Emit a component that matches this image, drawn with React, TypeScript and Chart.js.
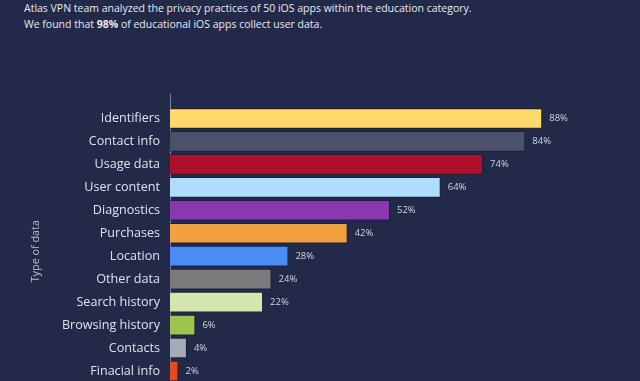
import React, { useEffect, useRef } from "react";
import { Chart, registerables } from "chart.js";

Chart.register(...registerables);

const categories = [
  "Identifiers",
  "Contact info",
  "Usage data",
  "User content",
  "Diagnostics",
  "Purchases",
  "Location",
  "Other data",
  "Search history",
  "Browsing history",
  "Contacts",
  "Finacial info",
];
const values = [88, 84, 74, 64, 52, 42, 28, 24, 22, 6, 4, 2];
const barColors = [
  "#FFDA6A",
  "#4B516B",
  "#AE1029",
  "#AEDDFD",
  "#8A38B0",
  "#F2A03E",
  "#4A8CF6",
  "#7B7B7B",
  "#D3E6AE",
  "#9CC54C",
  "#A6AAB6",
  "#E94A1E",
];
const axisTitle = "Type of data";
const titleLine1 =
  "Atlas VPN team analyzed the privacy practices of 50 iOS apps within the education category.";
const titleLine2Before = "We found that ";
const titleLine2Bold = "98%";
const titleLine2After = " of educational iOS apps collect user data.";

const BG = "#222949";
const FONT = "'Open Sans', 'Noto Sans', sans-serif";

export default function App() {
  const ref = useRef<HTMLCanvasElement>(null);

  useEffect(() => {
    document.body.style.margin = "0";
    document.body.style.background = BG;
    if (!ref.current) return;

    const axisDecor = {
      id: "axisDecor",
      beforeDatasetsDraw(chart: any) {
        const { ctx, chartArea } = chart;
        const x = chart.scales.x.getPixelForValue(0);
        ctx.save();
        ctx.strokeStyle = "#7d8299";
        ctx.lineWidth = 1;
        ctx.beginPath();
        ctx.moveTo(Math.round(x) + 0.5, chartArea.top - 13.5);
        ctx.lineTo(Math.round(x) + 0.5, chartArea.bottom);
        ctx.stroke();
        // vertical axis title
        const yScale = chart.scales.y;
        ctx.translate(yScale.left + 35.5, (chartArea.top + chartArea.bottom) / 2 + 6.5);
        ctx.rotate(-Math.PI / 2);
        ctx.fillStyle = "#b9bdcc";
        ctx.font = `10.8px ${FONT}`;
        ctx.textAlign = "center";
        ctx.textBaseline = "middle";
        ctx.fillText(axisTitle, 0, 0);
        ctx.restore();
      },
    };

    const valueLabels = {
      id: "valueLabels",
      afterDatasetsDraw(chart: any) {
        const { ctx } = chart;
        const meta = chart.getDatasetMeta(0);
        ctx.save();
        ctx.fillStyle = "#d3d6e2";
        ctx.font = `9.5px ${FONT}`;
        ctx.textAlign = "left";
        ctx.textBaseline = "middle";
        meta.data.forEach((bar: any, i: number) => {
          ctx.fillText(`${values[i]}%`, bar.x + 7, bar.y);
        });
        ctx.restore();
      },
    };

    const chart = new Chart(ref.current, {
      type: "bar",
      data: {
        labels: categories,
        datasets: [
          {
            data: values,
            backgroundColor: barColors,
            borderColor: "rgba(20,24,48,0.55)",
            borderWidth: 1,
            barPercentage: 0.9,
            categoryPercentage: 1,
          },
        ],
      },
      options: {
        indexAxis: "y",
        responsive: false,
        animation: false,
        layout: { padding: { top: 107, bottom: 17, left: 0, right: 47 } },
        plugins: {
          legend: { display: false },
          tooltip: { enabled: false },
        },
        scales: {
          x: { display: false, min: 0, max: 100 },
          y: {
            grid: { display: false, drawTicks: false },
            border: { display: false },
            ticks: {
              color: "#dfe2ee",
              font: { family: FONT, size: 12.6 },
              padding: 10,
            },
            afterFit: (s: any) => {
              s.width = 170;
            },
          },
        },
      },
      plugins: [axisDecor, valueLabels],
    });
    return () => chart.destroy();
  }, []);

  return (
    <div
      style={{
        position: "absolute",
        left: 0,
        top: 0,
        width: 640,
        height: 381,
        overflow: "hidden",
        background: BG,
      }}
    >
      <div
        style={{
          position: "absolute",
          left: 24,
          top: 1,
          color: "#e9eaf2",
          fontFamily: FONT,
          fontSize: 10.5,
          lineHeight: "15.5px",
          whiteSpace: "nowrap",
        }}
      >
        <div>{titleLine1}</div>
        <div>
          {titleLine2Before}
          <b>{titleLine2Bold}</b>
          {titleLine2After}
        </div>
      </div>
      <canvas
        ref={ref}
        width={640}
        height={400}
        style={{ position: "absolute", left: 0, top: 0, width: 640, height: 400 }}
      />
    </div>
  );
}
